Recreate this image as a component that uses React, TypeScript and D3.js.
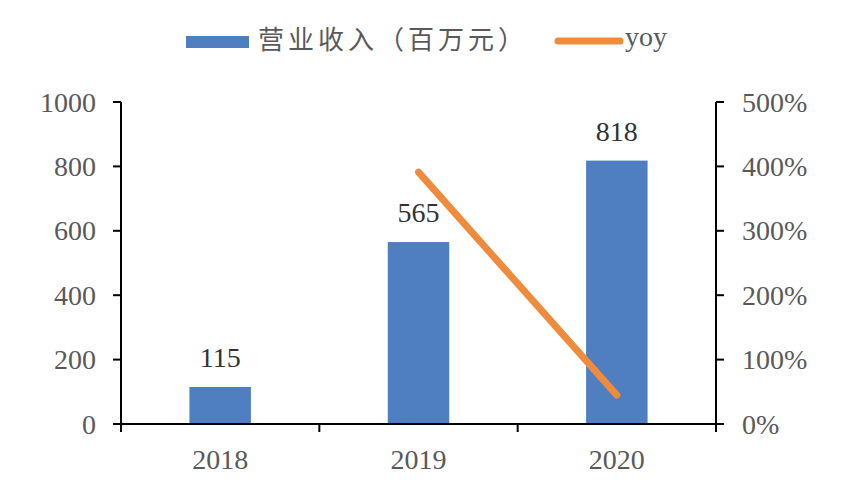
import React from "react";
import * as d3 from "d3";

const categories = ["2018", "2019", "2020"];
const revenue = [115, 565, 818];
const yoy = [null, 3.91, 0.448];
const leftTicks = [0, 200, 400, 600, 800, 1000];
const rightTicks = [0, 1, 2, 3, 4, 5];
const legendBar = "营业收入（百万元）";
const legendLine = "yoy";

const W = 847;
const H = 495;
const BLUE = "#4F7FC0";
const ORANGE = "#EE8B3C";
const serif = "'Liberation Serif', 'Times New Roman', serif";
const cjk = "'Noto Sans CJK SC', sans-serif";

export default function App() {
  const x0 = 121;
  const x1 = 716;
  const band = d3.scaleBand<string>().domain(categories).range([x0, x1]).padding(0);
  const yL = d3.scaleLinear().domain([0, 1000]).range([424, 102]);
  const yR = d3.scaleLinear().domain([0, 5]).range([424, 102]);
  const barW = band.bandwidth() * 0.31;
  const cx = (c: string) => (band(c) as number) + band.bandwidth() / 2;

  const linePts = categories
    .map((c, i) => ({ c, v: yoy[i] }))
    .filter((d) => d.v !== null) as { c: string; v: number }[];
  const lineGen = d3
    .line<{ c: string; v: number }>()
    .x((d) => cx(d.c))
    .y((d) => yR(d.v));

  const boundaries = [x0, ...categories.slice(1).map((c) => band(c) as number), x1];

  return (
    <svg
      width={W}
      height={H}
      style={{ position: "absolute", left: 0, top: 0, background: "#fff" }}
    >
      {categories.map((c, i) => (
        <rect
          key={c}
          x={cx(c) - barW / 2}
          y={yL(revenue[i])}
          width={barW}
          height={yL(0) - yL(revenue[i])}
          fill={BLUE}
        />
      ))}
      {categories.map((c, i) => (
        <text
          key={"l" + c}
          x={cx(c)}
          y={yL(revenue[i]) - 20}
          textAnchor="middle"
          fontFamily={serif}
          fontSize={28}
          fill="#333"
        >
          {revenue[i]}
        </text>
      ))}
      <path
        d={lineGen(linePts) || ""}
        fill="none"
        stroke={ORANGE}
        strokeWidth={7}
        strokeLinecap="round"
      />
      <g stroke="#000" strokeWidth={2}>
        <line x1={x0} x2={x0} y1={yL(1000)} y2={yL(0)} />
        <line x1={x1} x2={x1} y1={yR(5)} y2={yR(0)} />
        <line x1={x0 - 8} x2={x1 + 8} y1={yL(0)} y2={yL(0)} />
        {leftTicks.map((t) => (
          <line key={"lt" + t} x1={x0 - 8} x2={x0} y1={yL(t)} y2={yL(t)} />
        ))}
        {rightTicks.map((t) => (
          <line key={"rt" + t} x1={x1} x2={x1 + 8} y1={yR(t)} y2={yR(t)} />
        ))}
        {boundaries.map((b, i) => (
          <line key={"bt" + i} x1={b} x2={b} y1={yL(0)} y2={yL(0) + 8} />
        ))}
      </g>
      {leftTicks.map((t) => (
        <text
          key={"ll" + t}
          x={96}
          y={yL(t) + 9.5}
          textAnchor="end"
          fontFamily={serif}
          fontSize={28}
          fill="#595959"
        >
          {t}
        </text>
      ))}
      {rightTicks.map((t) => (
        <text
          key={"rl" + t}
          x={742}
          y={yR(t) + 9.5}
          textAnchor="start"
          fontFamily={serif}
          fontSize={28}
          fill="#595959"
        >
          {d3.format(".0%")(t)}
        </text>
      ))}
      {categories.map((c) => (
        <text
          key={"cl" + c}
          x={cx(c)}
          y={469}
          textAnchor="middle"
          fontFamily={serif}
          fontSize={28}
          fill="#595959"
        >
          {c}
        </text>
      ))}
      <rect x={186} y={36} width={63} height={12} fill={BLUE} />
      <text
        x={258}
        y={49}
        fontFamily={cjk}
        fontSize={26}
        letterSpacing={4}
        fill="#595959"
      >
        {legendBar}
      </text>
      <line
        x1={558}
        x2={620}
        y1={41}
        y2={41}
        stroke={ORANGE}
        strokeWidth={7}
        strokeLinecap="round"
      />
      <text x={625} y={46} fontFamily={serif} fontSize={28} fill="#595959">
        {legendLine}
      </text>
    </svg>
  );
}
